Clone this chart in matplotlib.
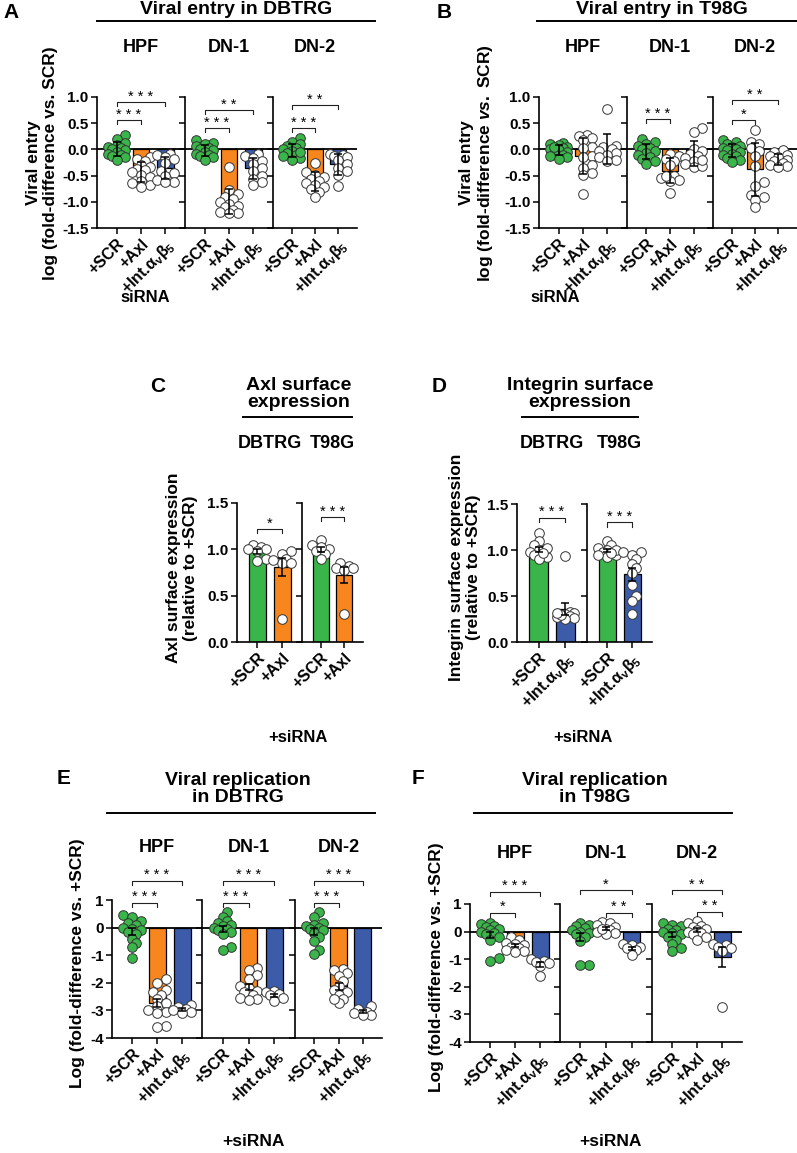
import numpy as np
import matplotlib
matplotlib.use('Agg')
import matplotlib.pyplot as plt
from matplotlib.lines import Line2D

plt.rcParams['font.family'] = ['Liberation Sans', 'DejaVu Sans']
plt.rcParams['font.weight'] = 'bold'
plt.rcParams['mathtext.fontset'] = 'custom'
plt.rcParams['mathtext.rm'] = 'Liberation Sans'
plt.rcParams['mathtext.it'] = 'Liberation Sans:italic:bold'
plt.rcParams['mathtext.bf'] = 'Liberation Sans:bold'
plt.rcParams['axes.unicode_minus'] = False

W, H = 797, 1153
GREEN = '#3ab54a'
ORANGE = '#f7861f'
BLUE = '#3c5ba9'

# ---------------- data (log fold-difference vs SCR) ----------------
subgroups = ['HPF', 'DN-1', 'DN-2']
cells = ['DBTRG', 'T98G']
lbl3 = ['+SCR', '+Axl', r'+Int.α$_\mathregular{v}$β$_\mathregular{5}$']
lblC = ['+SCR', '+Axl']
lblD = ['+SCR', r'+Int.α$_\mathregular{v}$β$_\mathregular{5}$']

# A: viral entry in DBTRG
A_HPF = [[0.27, 0.2, 0.12, 0.08, 0.05, 0.03, 0.0, -0.02, -0.05, -0.08, -0.1, -0.12, -0.15, -0.2],
         [-0.15, -0.18, -0.22, -0.3, -0.34, -0.38, -0.4, -0.44, -0.48, -0.53, -0.6, -0.65, -0.68, -0.72],
         [-0.08, -0.1, -0.14, -0.18, -0.25, -0.42, -0.45, -0.5, -0.58, -0.62, -0.62]]
A_DN1 = [[0.17, 0.12, 0.1, 0.06, 0.03, 0.0, -0.02, -0.05, -0.08, -0.1, -0.12, -0.15, -0.2],
         [-0.34, -0.78, -0.85, -0.9, -0.95, -1.0, -1.05, -1.08, -1.1, -1.15, -1.2, -1.22, -1.22],
         [-0.08, -0.12, -0.17, -0.22, -0.28, -0.35, -0.42, -0.5, -0.56, -0.62, -0.68]]
A_DN2 = [[0.22, 0.15, 0.1, 0.06, 0.03, 0.0, -0.03, -0.06, -0.1, -0.13, -0.16, -0.2, -0.05],
         [-0.26, -0.44, -0.48, -0.52, -0.56, -0.6, -0.64, -0.68, -0.72, -0.76, -0.82, -0.9],
         [-0.08, -0.1, -0.12, -0.15, -0.2, -0.28, -0.35, -0.42, -0.48, -0.7]]
A_SIG = [[(0, 1, 0.56, '***'), (0, 2, 0.9, '***')],
         [(0, 1, 0.4, '***'), (0, 2, 0.75, '**')],
         [(0, 1, 0.4, '***'), (0, 2, 0.84, '**')]]

# B: viral entry in T98G
B_HPF = [[0.12, 0.1, 0.08, 0.05, 0.02, 0.0, -0.02, -0.05, -0.08, -0.1, -0.12, -0.15, -0.18, 0.04],
         [0.28, 0.26, 0.22, 0.18, 0.05, 0.03, -0.12, -0.15, -0.3, -0.35, -0.45, -0.48, -0.86],
         [0.77, 0.06, 0.04, 0.0, -0.03, -0.06, -0.1, -0.15, -0.2, -0.22]]
B_DN1 = [[0.2, 0.14, 0.1, 0.06, 0.03, 0.0, -0.03, -0.06, -0.1, -0.14, -0.18, -0.22, -0.27],
         [-0.08, -0.12, -0.18, -0.22, -0.3, -0.5, -0.54, -0.58, -0.6, -0.5, -0.84],
         [0.4, 0.34, 0.0, -0.03, -0.08, -0.12, -0.16, -0.22, -0.28, -0.34, -0.32, -0.2]]
B_DN2 = [[0.18, 0.14, 0.1, 0.07, 0.04, 0.02, 0.0, -0.02, -0.05, -0.08, -0.1, -0.13, -0.16, -0.2, -0.24],
         [0.37, 0.15, 0.1, 0.03, -0.03, -0.12, -0.31, -0.63, -0.7, -0.87, -0.9, -0.97, -1.1],
         [-0.02, -0.05, -0.1, -0.12, -0.15, -0.2, -0.22, -0.26, -0.3, -0.32, -0.33]]
B_SIG = [[],
         [(0, 1, 0.58, '***')],
         [(0, 1, 0.56, '*'), (0, 2, 0.94, '**')]]

# C: Axl surface expression (relative to +SCR)
C_DBTRG = [[1.05, 1.02, 1.0, 0.98, 0.9, 0.87, 1.0],
           [0.98, 0.95, 0.9, 0.85, 0.85, 0.88, 0.25]]
C_T98G = [[1.1, 1.05, 1.0, 0.98, 0.95, 0.9, 1.02],
          [0.85, 0.82, 0.8, 0.78, 0.8, 0.3]]
C_SIG = [[(0, 1, 1.22, '*')], [(0, 1, 1.35, '***')]]

# D: integrin surface expression (relative to +SCR)
D_DBTRG = [[1.18, 1.1, 1.05, 1.0, 0.98, 0.95, 0.92, 0.9, 1.02, 0.97],
           [0.93, 0.33, 0.31, 0.3, 0.28, 0.26, 0.25, 0.27, 0.29, 0.32]]
D_T98G = [[1.1, 1.05, 1.02, 1.0, 0.98, 0.95, 0.92, 1.0, 0.97, 0.95],
          [0.98, 0.98, 0.95, 0.9, 0.85, 0.8, 0.75, 0.62, 0.5, 0.45, 0.3]]
D_SIG = [[(0, 1, 1.35, '***')], [(0, 1, 1.3, '***')]]

# E: viral replication in DBTRG
E_HPF = [[0.45, 0.4, 0.25, 0.15, 0.1, 0.0, -0.05, -0.1, -0.15, -0.25, -0.4, -0.55, -0.7, -1.1],
         [-1.88, -2.0, -2.25, -2.35, -2.45, -2.6, -2.75, -2.85, -3.0, -3.05, -3.1, -3.55, -3.6],
         [-2.82, -2.88, -2.95, -3.0, -3.05, -3.1]]
E_DN1 = [[0.55, 0.4, 0.25, 0.15, 0.1, 0.05, 0.0, -0.05, -0.1, -0.15, -0.25, -0.7, -0.8],
         [-1.45, -1.55, -1.72, -1.85, -2.1, -2.2, -2.3, -2.35, -2.45, -2.55, -2.6, -2.62],
         [-2.3, -2.35, -2.4, -2.45, -2.55, -2.65]]
E_DN2 = [[0.55, 0.4, 0.15, 0.1, 0.05, 0.0, -0.05, -0.1, -0.2, -0.35, -0.5, -0.8, -0.95],
         [-1.5, -1.55, -1.65, -1.75, -1.95, -2.1, -2.25, -2.35, -2.45, -2.6, -2.75, -2.6],
         [-2.85, -2.95, -3.05, -3.1, -3.15, -3.15]]
E_SIG = [[(0, 1, 0.9, '***'), (0, 2, 1.7, '***')]] * 3

# F: viral replication in T98G
F_HPF = [[0.3, 0.28, 0.2, 0.15, 0.1, 0.05, 0.0, -0.05, -0.1, -0.2, -0.3, -0.95, -1.05],
         [-0.2, -0.3, -0.4, -0.45, -0.5, -0.55, -0.6, -0.65, -0.7, -0.75],
         [-1.0, -1.05, -1.1, -1.15, -1.25, -1.6]]
F_DN1 = [[0.3, 0.25, 0.2, 0.12, 0.05, 0.0, -0.05, -0.1, -0.2, -0.35, -1.2, -1.22],
         [0.35, 0.3, 0.25, 0.15, 0.1, 0.05, 0.0, -0.05, -0.1, 0.08],
         [-0.45, -0.5, -0.55, -0.6, -0.65, -0.85]]
F_DN2 = [[0.3, 0.25, 0.2, 0.1, 0.05, 0.0, -0.05, -0.1, -0.2, -0.3, -0.45, -0.6, -0.7],
         [0.4, 0.3, 0.2, 0.15, 0.1, 0.05, 0.0, -0.05, -0.1, -0.2, -0.3],
         [-0.45, -0.5, -0.55, -0.6, -0.7, -2.75]]
F_SIG = [[(0, 1, 0.69, '*'), (0, 2, 1.45, '***')],
         [(1, 2, 0.69, '**'), (0, 2, 1.5, '*')],
         [(1, 2, 0.72, '**'), (0, 2, 1.5, '**')]]

fig = plt.figure(figsize=(W / 100, H / 100), dpi=100)

FS_TITLE = 14
FS_SUB = 13
FS_YLAB = 12.5
FS_TICK = 11
FS_XT = 11.5


def pax(x0, y0, x1, y1):
    return fig.add_axes([x0 / W, 1 - y1 / H, (x1 - x0) / W, (y1 - y0) / H])


def ftext(x, y, s, **kw):
    return fig.text(x / W, 1 - y / H, s, **kw)


def hline(x0, x1, y):
    fig.add_artist(Line2D([x0 / W, x1 / W], [1 - y / H, 1 - y / H], color='black', lw=1.4))


def swarm(vals, xppu, yppu, d=9.5):
    # small deterministic beeswarm, offsets in data units
    vals = np.asarray(vals, float)
    placed = []
    off = np.zeros(len(vals))
    for k in np.argsort(vals):
        y = vals[k] * yppu
        best, best_gap = 0.0, -1.0
        for s in (0, 1, -1, 2, -2):
            x = s * d * 0.45
            gap = min([np.hypot(x - px, y - py) for px, py in placed], default=1e9)
            if gap >= d * 0.6:
                best = x
                break
            if gap > best_gap:
                best, best_gap = x, gap
        placed.append((best, y))
        off[k] = best / xppu
    return off


def subpanel(box, groups, colors, pcols, labels, ylim, yticks, fmt, err, sigs,
             first, zero=True):
    ax = pax(*box)
    n = len(groups)
    xl = (-0.8, n - 0.2)
    ax.set_xlim(*xl)
    ax.set_ylim(*ylim)
    xppu = (box[2] - box[0]) / (xl[1] - xl[0])
    yppu = (box[3] - box[1]) / (ylim[1] - ylim[0])
    for i, g in enumerate(groups):
        g = np.asarray(g, float)
        m = g.mean()
        e = g.std(ddof=1)
        if err == 'sem':
            e = e / np.sqrt(len(g))
        ax.bar(i, m, width=0.68, color=colors[i], edgecolor='black', linewidth=0.9, zorder=2)
        off = swarm(g, xppu, yppu)
        ax.scatter(i + off, g, s=48, facecolor=pcols[i], edgecolor='#333333',
                   linewidth=0.7, zorder=3, clip_on=False)
        ax.errorbar(i, m, yerr=e, fmt='none', ecolor='black', elinewidth=1.1,
                    capsize=3, capthick=1.1, zorder=4)
    if zero:
        ax.axhline(0, color='black', lw=1.3, zorder=2.5)
    for sp in ('top', 'right'):
        ax.spines[sp].set_visible(False)
    for sp in ('left', 'bottom'):
        ax.spines[sp].set_linewidth(1.2)
    ax.set_xticks(np.arange(n))
    ax.set_xticklabels(labels, rotation=45, ha='right', rotation_mode='anchor', fontsize=FS_XT)
    ax.set_yticks(yticks)
    if first:
        ax.set_yticklabels([fmt % t for t in yticks], fontsize=FS_TICK)
    else:
        ax.tick_params(axis='y', labelleft=False)
    ax.tick_params(length=4, width=1.1, pad=2)
    h = (ylim[1] - ylim[0]) * 0.03
    for i, j, y, s in sigs:
        ax.plot([i, i, j, j], [y - h, y, y, y - h], color='#222222', lw=0.8,
                clip_on=False, zorder=6)
        ax.text((i + j) / 2, y - h * 0.4, ' '.join(s), ha='center', va='bottom',
                fontsize=10.5, fontweight='normal', clip_on=False)
    return ax


cols3 = [GREEN, ORANGE, BLUE]
pts3 = [GREEN, 'white', 'white']

# ---------------- Panel A ----------------
boxesA = [(97, 97, 185, 228), (185, 97, 273, 228), (273, 97, 357, 228)]
for k, (bx, grp) in enumerate(zip(boxesA, [A_HPF, A_DN1, A_DN2])):
    subpanel(bx, grp, cols3, pts3, lbl3, (-1.5, 1.0), np.arange(-1.5, 1.01, 0.5),
             '%.1f', 'sd', A_SIG[k], k == 0)
    ftext((bx[0] + bx[2]) / 2, 47, subgroups[k], ha='center', va='center', fontsize=FS_SUB)
ftext(3, 13, 'A', fontsize=15, va='center')
ftext(236, 10, 'Viral entry in DBTRG', ha='center', va='center', fontsize=FS_TITLE)
hline(97, 375, 21)
ftext(42, 163, 'Viral entry\nlog (fold-difference vs. SCR)', rotation=90,
      ha='center', va='center', fontsize=FS_YLAB, multialignment='center', linespacing=1.1)
ftext(145, 298, 'siRNA', ha='center', va='center', fontsize=12)

# ---------------- Panel B ----------------
boxesB = [(539, 97, 627, 228), (627, 97, 713, 228), (713, 97, 797, 228)]
for k, (bx, grp) in enumerate(zip(boxesB, [B_HPF, B_DN1, B_DN2])):
    subpanel(bx, grp, cols3, pts3, lbl3, (-1.5, 1.0), np.arange(-1.5, 1.01, 0.5),
             '%.1f', 'sd', B_SIG[k], k == 0)
    ftext((bx[0] + bx[2]) / 2, 47, subgroups[k], ha='center', va='center', fontsize=FS_SUB)
ftext(437, 13, 'B', fontsize=15, va='center')
ftext(662, 10, 'Viral entry in T98G', ha='center', va='center', fontsize=FS_TITLE)
hline(537, 797, 21)
ftext(477, 163, 'Viral entry\nlog (fold-difference $\\it{vs.}$ SCR)', rotation=90,
      ha='center', va='center', fontsize=FS_YLAB, multialignment='center', linespacing=1.1)
ftext(555, 298, 'siRNA', ha='center', va='center', fontsize=12)

# ---------------- Panel C ----------------
boxesC = [(237, 503, 302, 642), (302, 503, 363, 642)]
for k, (bx, grp) in enumerate(zip(boxesC, [C_DBTRG, C_T98G])):
    subpanel(bx, grp, [GREEN, ORANGE], ['white', 'white'], lblC, (0, 1.5),
             np.arange(0, 1.51, 0.5), '%.1f', 'sem', C_SIG[k], k == 0, zero=False)
    ftext((bx[0] + bx[2]) / 2, 443, cells[k], ha='center', va='center', fontsize=FS_SUB)
ftext(150, 387, 'C', fontsize=15, va='center')
ftext(299, 394, 'Axl surface\nexpression', ha='center', va='center', fontsize=FS_TITLE,
      linespacing=0.95)
hline(243, 352, 417)
ftext(182, 568, 'Axl surface expression\n(relative to +SCR)', rotation=90,
      ha='center', va='center', fontsize=FS_YLAB, multialignment='center', linespacing=1.1)
ftext(298, 738, '+siRNA', ha='center', va='center', fontsize=12)

# ---------------- Panel D ----------------
boxesD = [(517, 504, 587, 642), (587, 504, 652, 642)]
for k, (bx, grp) in enumerate(zip(boxesD, [D_DBTRG, D_T98G])):
    subpanel(bx, grp, [GREEN, BLUE], ['white', 'white'], lblD, (0, 1.5),
             np.arange(0, 1.51, 0.5), '%.1f', 'sem', D_SIG[k], k == 0, zero=False)
    ftext((bx[0] + bx[2]) / 2, 443, cells[k], ha='center', va='center', fontsize=FS_SUB)
ftext(432, 387, 'D', fontsize=15, va='center')
ftext(580, 394, 'Integrin surface\nexpression', ha='center', va='center', fontsize=FS_TITLE,
      linespacing=0.95)
hline(522, 638, 417)
ftext(465, 567, 'Integrin surface expression\n(relative to +SCR)', rotation=90,
      ha='center', va='center', fontsize=FS_YLAB, multialignment='center', linespacing=1.1)
ftext(583, 738, '+siRNA', ha='center', va='center', fontsize=12)

# ---------------- Panel E ----------------
boxesE = [(112, 900, 202, 1038), (202, 900, 295, 1038), (295, 900, 382, 1038)]
for k, (bx, grp) in enumerate(zip(boxesE, [E_HPF, E_DN1, E_DN2])):
    subpanel(bx, grp, cols3, pts3, lbl3, (-4, 1), np.arange(-4, 1.01, 1),
             '%d', 'sem', E_SIG[k], k == 0)
    ftext((bx[0] + bx[2]) / 2, 848, subgroups[k], ha='center', va='center', fontsize=FS_SUB)
ftext(57, 778, 'E', fontsize=15, va='center')
ftext(238, 789, 'Viral replication\nin DBTRG', ha='center', va='center', fontsize=FS_TITLE,
      linespacing=1.05)
hline(107, 375, 813)
ftext(78, 963, 'Log (fold-difference vs. +SCR)', rotation=90, ha='center', va='center',
      fontsize=FS_YLAB)
ftext(253, 1142, '+siRNA', ha='center', va='center', fontsize=12.5)

# ---------------- Panel F ----------------
boxesF = [(470, 904, 560, 1042), (560, 904, 652, 1042), (652, 904, 742, 1042)]
for k, (bx, grp) in enumerate(zip(boxesF, [F_HPF, F_DN1, F_DN2])):
    subpanel(bx, grp, cols3, pts3, lbl3, (-4, 1), np.arange(-4, 1.01, 1),
             '%d', 'sem', F_SIG[k], k == 0)
    ftext((bx[0] + bx[2]) / 2, 853, subgroups[k], ha='center', va='center', fontsize=FS_SUB)
ftext(412, 778, 'F', fontsize=15, va='center')
ftext(595, 789, 'Viral replication\nin T98G', ha='center', va='center', fontsize=FS_TITLE,
      linespacing=1.05)
hline(474, 732, 813)
ftext(437, 967, 'Log (fold-difference vs. +SCR)', rotation=90, ha='center', va='center',
      fontsize=FS_YLAB)
ftext(610, 1142, '+siRNA', ha='center', va='center', fontsize=12.5)

fig.savefig('out.png', dpi=100)
